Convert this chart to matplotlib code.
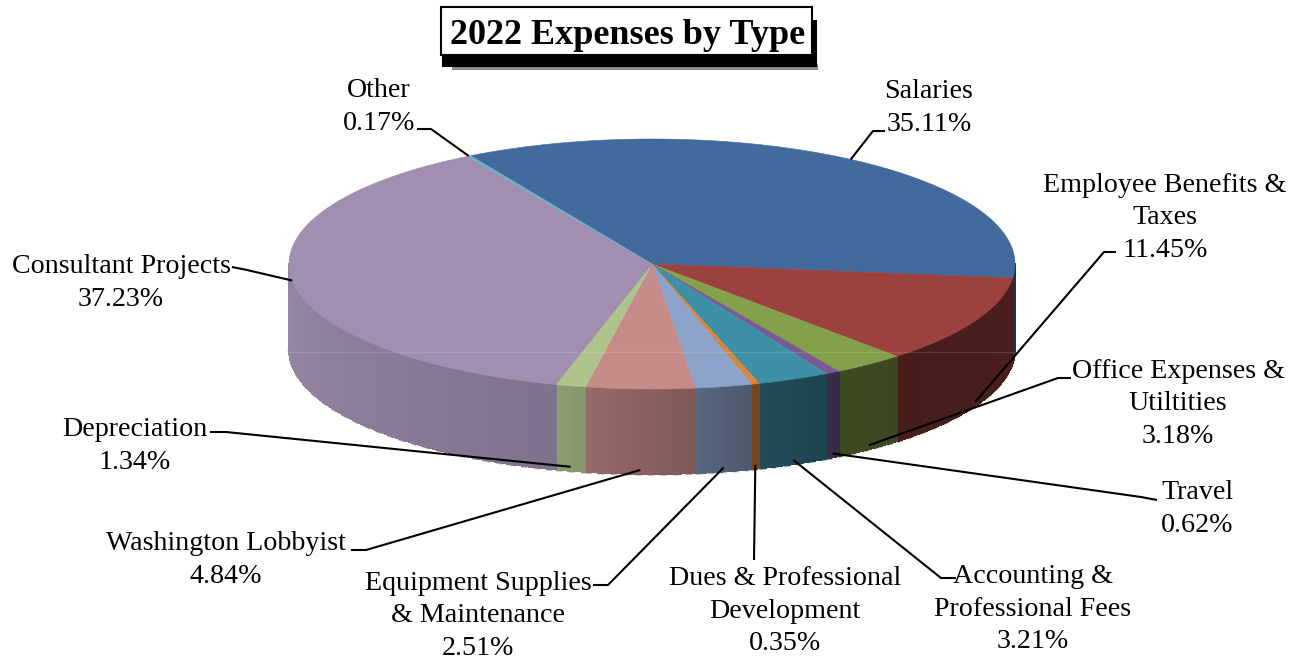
import numpy as np
import matplotlib
matplotlib.use('Agg')
import matplotlib.pyplot as plt
from matplotlib.patches import Polygon, Rectangle

# expense shares in percent, clockwise from the top of the pie
names = ['Salaries', 'Employee Benefits &\nTaxes', 'Office Expenses &\nUtiltities', 'Travel',
         'Accounting &\nProfessional Fees', 'Dues & Professional\nDevelopment',
         'Equipment Supplies\n& Maintenance', 'Washington Lobbyist', 'Depreciation',
         'Consultant Projects', 'Other']
shares = [35.11, 11.45, 3.18, 0.62, 3.21, 0.35, 2.51, 4.84, 1.34, 37.23, 0.17]
colors = ['#426A9C', '#9D413F', '#83A04A', '#7B5A94', '#3E90A6', '#D9873A',
          '#8DA3C9', '#C58B88', '#AFC48D', '#A08FB0', '#6FB0C8']
label_xy = [(929, 108), (1165, 218), (1178, 404), (1197, 509), (1033, 609), (785, 611),
            (478, 616), (226, 560), (135, 446), (121, 283), (379, 107)]
# where each leader line leaves its label
elbows = [[(885, 131), (873, 131)], [(1116, 252), (1104, 252)], [(1071, 378), (1058, 378)],
          [(1157, 500), (1141, 497)], [(956, 578), (941, 578)], [(754, 560)],
          [(593, 585), (608, 585)], [(351, 550), (366, 550)], [(210, 432), (226, 432)],
          [(232, 267), (247, 270)], [(417, 129), (431, 129)]]

# geometry of the tilted pie, in pixels
cx, cy, rx, ry = 652, 264, 363, 125
depth = 85
start = 120.0

# wall brightness relative to the top face, by rim angle
shade_t = [-180, -105, -100, -84, -74, -60, -47, 0]
shade_v = [0.94, 0.80, 0.76, 0.65, 0.54, 0.47, 0.45, 0.47]


def rim(t):
    t = np.radians(t)
    return cx + rx * np.cos(t), cy - ry * np.sin(t)


def darker(c, f):
    return tuple(np.array(matplotlib.colors.to_rgb(c)) * f)


def paler(c, f):
    c = np.array(matplotlib.colors.to_rgb(c))
    return tuple(c + (1 - c) * f)


plt.rcParams['font.family'] = ['Liberation Serif', 'DejaVu Serif']

fig = plt.figure(figsize=(13.03, 6.6), dpi=100)
ax = fig.add_axes([0, 0, 1, 1])
ax.set_xlim(0, 1303)
ax.set_ylim(660, 0)
ax.axis('off')

angles = start - np.cumsum([0] + shares) * 360.0 / sum(shares)

# walls first, as thin strips so the shading can change around the rim
for i in range(len(shares)):
    t1, t0 = angles[i], angles[i + 1]
    # only the front half of the wall shows
    for lo, hi in [(t0, t1), (t0 + 360, t1 + 360)]:
        lo2, hi2 = max(lo, -180), min(hi, 0)
        if hi2 <= lo2:
            continue
        edges = np.linspace(lo2, hi2, max(2, int(hi2 - lo2) + 2))
        for a, b in zip(edges[:-1], edges[1:]):
            x, y = rim(np.array([a, b]))
            f = np.interp((a + b) / 2, shade_t, shade_v)
            pts = [(x[0], y[0]), (x[1], y[1]), (x[1], y[1] + depth), (x[0], y[0] + depth)]
            ax.add_patch(Polygon(pts, closed=True, fc=darker(colors[i], f), ec=darker(colors[i], f),
                                 lw=0.6, antialiased=False, zorder=2))
        # pale broken fringe along the bottom edge
        tt = np.linspace(lo2, hi2, 60)
        x, y = rim(tt)
        ax.plot(x, y + depth + 0.5, color=paler(darker(colors[i], 0.7), 0.45), lw=1.8,
                ls=(0, (2.5, 2.5)), zorder=1.5, solid_capstyle='butt')

# top faces
for i in range(len(shares)):
    tt = np.linspace(angles[i], angles[i + 1], 120)
    x, y = rim(tt)
    pts = np.vstack([[cx, cy], np.column_stack([x, y])])
    ax.add_patch(Polygon(pts, closed=True, fc=colors[i], ec=colors[i], lw=0.4, zorder=3))

# faint horizontal seam across the pie
ax.plot([cx - rx, cx + rx], [352, 352], color='white', alpha=0.12, lw=1, zorder=4)

# labels and leader lines
for i, name in enumerate(names):
    text = name + '\n' + '%.2f%%' % shares[i]
    ax.text(label_xy[i][0], label_xy[i][1], text, ha='center', va='center', fontsize=20.2,
            linespacing=1.41, color='black', zorder=6)
    mid = (angles[i] + angles[i + 1]) / 2
    mid = (mid + 180) % 360 - 180
    tipx, tipy = rim(mid)
    if -150 < mid < 0:
        tipy = tipy + depth - 4
    px = [p[0] for p in elbows[i]] + [tipx]
    py = [p[1] for p in elbows[i]] + [tipy]
    ax.plot(px, py, color='black', lw=1.5, zorder=5, solid_capstyle='butt')

# title box with its hard drop shadow
ax.add_patch(Rectangle((452, 64), 366, 6, fc='#8A8A8A', ec='none', zorder=3))
ax.add_patch(Rectangle((442, 20), 375, 47, fc='black', ec='none', zorder=4))
ax.add_patch(Rectangle((441, 7), 371, 48, fc='white', ec='black', lw=1.5, zorder=5))
ax.text(628, 36, '2022 Expenses by Type', ha='center', va='center', fontsize=26,
        fontweight='bold', color='black', zorder=6)

fig.savefig('out.png', dpi=100)
